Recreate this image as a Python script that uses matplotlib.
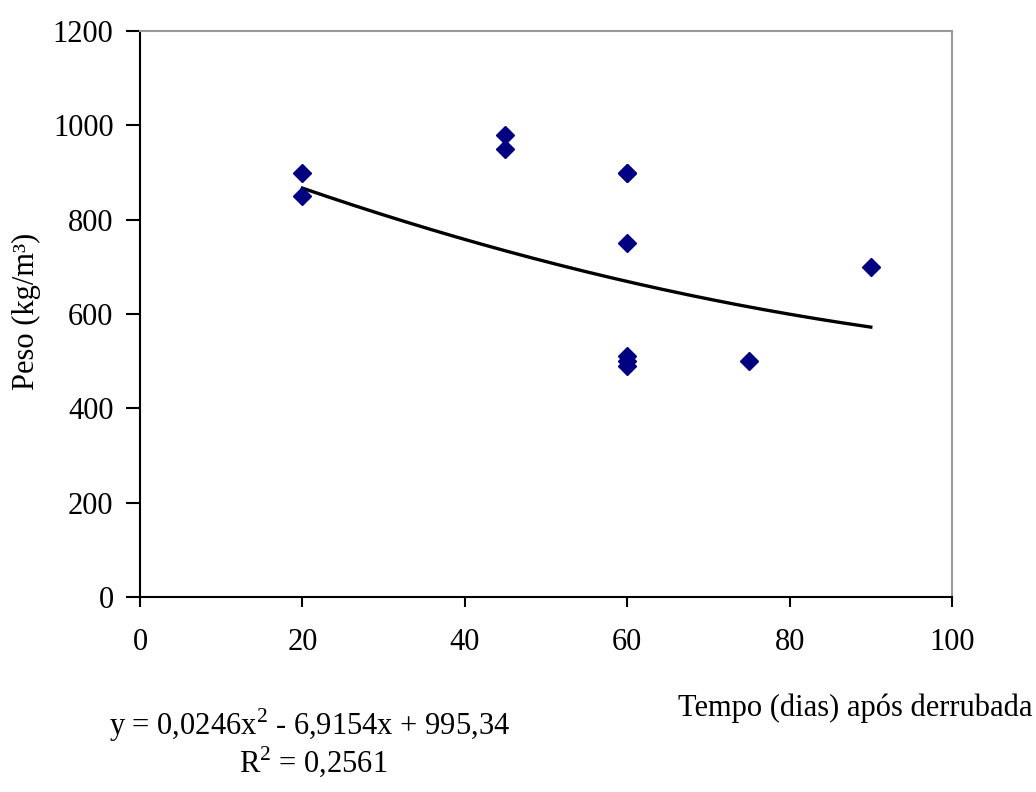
import numpy as np
import matplotlib.pyplot as plt

# days after felling vs weight (kg/m3)
dias = [20, 20, 45, 45, 60, 60, 60, 60, 60, 60, 75, 90]
peso = [900, 850, 980, 950, 900, 900, 750, 510, 500, 490, 500, 700]

# trendline coefficients as printed on the chart
coef = [0.0246, -6.9154, 995.34]
eq_text = "y = 0,0246x$^2$ - 6,9154x + 995,34"
r2_text = "R$^2$ = 0,2561"

plt.rcParams['font.family'] = ['Liberation Serif', 'DejaVu Serif']
plt.rcParams['mathtext.fontset'] = 'custom'
plt.rcParams['mathtext.rm'] = 'Liberation Serif'
plt.rcParams['font.size'] = 22

fig = plt.figure(figsize=(10.36, 7.92), dpi=100)
ax = fig.add_axes([140 / 1036, 1 - 597 / 792, 812 / 1036, 566 / 792])

xt = np.linspace(min(dias), max(dias), 200)
ax.plot(xt, np.polyval(coef, xt), color='black', lw=2.4, zorder=2)
ax.plot(dias, peso, 'D', color='#000080', markersize=9.5, zorder=3, clip_on=False)

ax.set_xlim(0, 100)
ax.set_ylim(0, 1200)
ax.set_xticks(range(0, 101, 20))
ax.set_yticks(range(0, 1201, 200))

for s in ['top', 'right']:
    ax.spines[s].set_color('#999999')
    ax.spines[s].set_linewidth(1.5)
for s in ['left', 'bottom']:
    ax.spines[s].set_color('black')
    ax.spines[s].set_linewidth(1.5)

ax.tick_params(axis='x', direction='out', length=7, width=1.5, pad=15)
ax.tick_params(axis='y', direction='out', length=10, width=1.5, pad=9)

fig.text(26 / 1036, 1 - 311 / 792, "Peso (kg/m³)", rotation=90, ha='center', va='center')
fig.text(1032 / 1036, 1 - 708 / 792, "Tempo (dias) após derrubada", ha='right', va='center')
fig.text(310 / 1036, 1 - 725 / 792, eq_text, ha='center', va='center')
fig.text(313 / 1036, 1 - 762 / 792, r2_text, ha='center', va='center')

fig.savefig("out.png", dpi=100)
